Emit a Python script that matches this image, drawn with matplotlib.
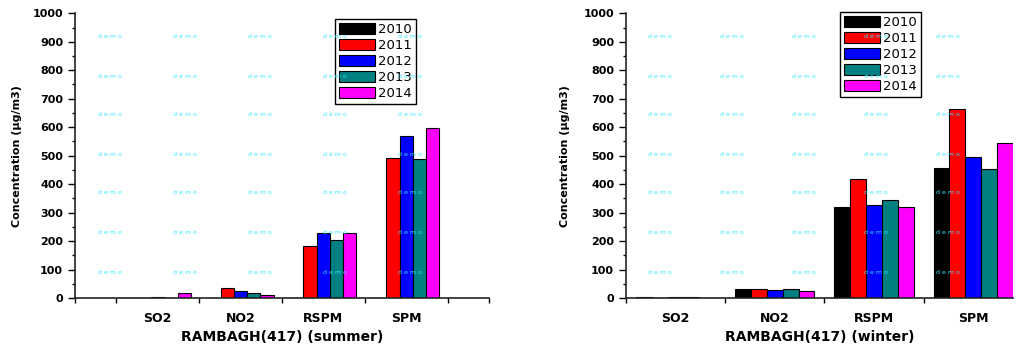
import matplotlib.pyplot as plt
import numpy as np

pollutants = ["SO2", "NO2", "RSPM", "SPM"]
years = ["2010", "2011", "2012", "2013", "2014"]
colors = ["#000000", "#ff0000", "#0000ff", "#008080", "#ff00ff"]

# concentrations per year, in pollutant order SO2, NO2, RSPM, SPM
summer = {
    "2010": [0, 0, 0, 0],
    "2011": [0, 34, 181, 492],
    "2012": [5, 25, 228, 570],
    "2013": [0, 18, 205, 488],
    "2014": [18, 11, 228, 598],
}
winter = {
    "2010": [5, 30, 319, 458],
    "2011": [0, 32, 418, 663],
    "2012": [4, 29, 326, 496],
    "2013": [4, 32, 344, 453],
    "2014": [0, 25, 319, 544],
}

plt.rcParams["font.family"] = "DejaVu Sans"

fig = plt.figure(figsize=(10.17, 3.52), dpi=100)


def draw_panel(ax, data, title, xlim, bounds, ylab_x, leg_anchor):
    x = np.arange(1, len(pollutants) + 1)
    w = 0.16
    for i, yr in enumerate(years):
        ax.bar(x + (i - 2) * w, data[yr], width=w, color=colors[i],
               edgecolor="black", linewidth=0.8, label=yr)
    ax.set_xlim(*xlim)
    ax.set_ylim(0, 1000)
    ax.set_yticks(np.arange(0, 1001, 100))
    ax.set_yticks(np.arange(0, 1001, 50), minor=True)
    ax.set_xticks(x)
    ax.set_xticklabels(pollutants, fontsize=9, fontweight="bold")
    ax.set_xticks(bounds, minor=True)
    ax.tick_params(axis="x", which="major", length=0, pad=10)
    ax.tick_params(axis="x", which="minor", length=3.5, width=1)
    ax.tick_params(axis="y", which="major", length=5, width=1, pad=3.5,
                   labelsize=8)
    ax.tick_params(axis="y", which="minor", length=2.5, width=1)
    for lab in ax.get_yticklabels():
        lab.set_fontweight("bold")
    for s in ["top", "right"]:
        ax.spines[s].set_visible(False)
    for s in ["left", "bottom"]:
        ax.spines[s].set_linewidth(1.2)
        ax.spines[s].set_color("#222222")
    ax.set_ylabel("Concentration (µg/m3)", fontsize=8, fontweight="bold")
    ax.yaxis.set_label_coords(ylab_x, 0.5)
    ax.set_xlabel(title, fontsize=10, fontweight="bold")
    ax.xaxis.set_label_coords(0.5, -0.112)
    ax.xaxis.label.set_va("top")
    leg = ax.legend(loc="upper left", bbox_to_anchor=leg_anchor,
                    borderaxespad=0, fontsize=9.5, fancybox=False,
                    edgecolor="black", framealpha=1, handlelength=2.7,
                    handleheight=0.9, handletextpad=0.3, labelspacing=0.22,
                    borderpad=0.3)
    leg.get_frame().set_linewidth(1)


ax1 = fig.add_axes([0.0737, 0.1534, 0.4071, 0.8088])
draw_panel(ax1, summer, "RAMBAGH(417) (summer)", (0, 5),
           [0, 0.5, 1.5, 2.5, 3.5, 4.5, 5], -0.128, (0.628, 0.98))

ax2 = fig.add_axes([0.6155, 0.1534, 0.3805, 0.8088])
draw_panel(ax2, winter, "RAMBAGH(417) (winter)", (0.5, 4.4),
           [0.5, 1.5, 2.5, 3.5], -0.145, (0.553, 1.005))

# software watermark grid
wm_x = [110, 185, 260, 335, 410, 660, 732, 804, 876, 948]
wm_y = [37, 76, 115, 154, 193, 233, 272]
for px in wm_x:
    for py in wm_y:
        fig.text(px / 1017, 1 - py / 352, "d e m o", fontsize=4.5,
                 color="#33e6ff", ha="center", va="center", zorder=10)

fig.savefig("out.png", dpi=100)
